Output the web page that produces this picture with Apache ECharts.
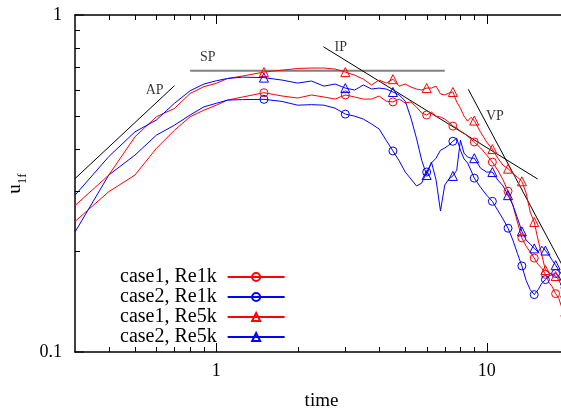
<!DOCTYPE html>
<html><head><meta charset="utf-8">
<script src="https://cdn.jsdelivr.net/npm/echarts@6/dist/echarts.min.js"></script>
<style>html,body{margin:0;padding:0;background:#fff}#c{width:561px;height:412px}</style>
</head><body><div id="c"></div>
<script>
// ---- data ----
const times = [0.3,0.4,0.5,0.6,0.7,0.8,0.9,1.0,1.1,1.25,
  1.5,1.75,2,2.25,2.5,2.75,3,3.25,3.5,3.75,4,4.25,4.5,4.75,5,5.25,5.5,5.75,6,6.25,6.5,6.75,7,7.25,7.5,7.75,8,8.25,8.5,8.75,9,
  9.5,10,10.5,11,11.5,12,12.5,13,13.5,14,14.5,15,15.5,16,16.5,17,17.5,18,18.5,19,19.5,20];
const case1Re1k = [0.244,0.299,0.335,0.402,0.455,0.499,0.522,0.540,0.559,0.571,
  0.588,0.575,0.567,0.579,0.571,0.563,0.579,0.571,0.563,0.563,0.575,0.555,0.552,0.563,0.548,0.552,0.533,0.512,0.505,0.515,0.501,0.498,0.491,0.481,0.468,0.462,0.452,0.446,0.437,0.428,0.420,
  0.403,0.384,0.366,0.346,0.324,0.300,0.273,0.243,0.218,0.206,0.198,0.190,0.182,0.177,0.170,0.161,0.156,0.149,0.144,0.135,0.128,0.124];
const case2Re1k = [0.227,0.335,0.384,0.440,0.471,0.505,0.534,0.547,0.559,0.561,
  0.562,0.554,0.540,0.542,0.540,0.529,0.508,0.501,0.491,0.475,0.459,0.425,0.395,0.369,0.342,0.326,0.311,0.317,0.342,0.364,0.376,0.397,0.403,0.411,0.422,0.431,0.397,0.374,0.364,0.346,0.328,
  0.308,0.292,0.280,0.263,0.248,0.233,0.215,0.196,0.180,0.163,0.153,0.148,0.153,0.160,0.164,0.168,0.170,0.171,0.168,0.161,0.155,0.150];
const case1Re5k = [0.272,0.335,0.435,0.499,0.528,0.585,0.613,0.627,0.648,0.659,
  0.677,0.686,0.694,0.696,0.696,0.691,0.677,0.663,0.645,0.620,0.641,0.628,0.645,0.615,0.624,0.611,0.603,0.599,0.607,0.607,0.615,0.583,0.579,0.587,0.591,0.552,0.529,0.501,0.484,0.497,0.486,
  0.449,0.420,0.400,0.376,0.358,0.350,0.339,0.330,0.321,0.296,0.260,0.243,0.215,0.194,0.175,0.172,0.170,0.168,0.163,0.157,0.150,0.144];
const case2Re5k = [0.292,0.380,0.450,0.488,0.547,0.596,0.624,0.638,0.648,0.654,
  0.652,0.641,0.628,0.637,0.615,0.624,0.607,0.599,0.620,0.603,0.607,0.603,0.591,0.579,0.555,0.494,0.431,0.371,0.335,0.366,0.324,0.262,0.313,0.326,0.333,0.346,0.425,0.389,0.379,0.376,0.376,
  0.351,0.342,0.342,0.324,0.311,0.292,0.273,0.250,0.228,0.215,0.209,0.203,0.198,0.206,0.200,0.194,0.187,0.181,0.175,0.169,0.163,0.161];
const seriesNames = ['case1, Re1k','case2, Re1k','case1, Re5k','case2, Re5k'];
const markerStep = 1.5;
const xLabels = [1, 10];
const yLabels = [0.1, 1];
const xMajorTicks = [1, 10];
const xMinorTicks = [0.4,0.5,0.6,0.7,0.8,0.9,2,3,4,5,6,7,8,9];
const yMinorTicks = [0.2,0.3,0.4,0.5,0.6,0.7,0.8,0.9];
const guideAP = [[0.3,0.327],[0.70,0.617]];
const guideSP = [[0.8,0.683],[7,0.683]];
const guideIP = [[2.49,0.805],[15.45,0.326]];
const guideVP = [[8.55,0.602],[20,0.168]];
const guideLabels = [
  {name:'AP', value:[0.591,0.599]},
  {name:'SP', value:[0.929,0.750]},
  {name:'IP', value:[2.887,0.803]},
  {name:'VP', value:[10.73,0.501]}
];

// ---- chart ----
const FONT = 'Liberation Serif';
const RED = '#ff0000', BLUE = '#0000ff';
const X_MIN = 0.3, X_MAX = 20, Y_MIN = 0.1, Y_MAX = 1;
function isMarker(t){ const q = t / markerStep; return t >= markerStep && Math.abs(q - Math.round(q)) < 1e-9; }
function build(vals){ return times.map((t,i)=> isMarker(t) ? [t, vals[i]] : {value:[t, vals[i]], symbol:'none'}); }
function dataSeries(name, vals, color, sym, size){
  return {name, type:'line', data: build(vals), symbol: sym, symbolSize: size, showSymbol:true,
    lineStyle:{color, width:1}, itemStyle:{color:'rgba(0,0,0,0)', borderColor:color, borderWidth:1},
    emphasis:{disabled:true}, animation:false, z:3};
}
function guide(data, color, width){
  return {type:'line', data, symbol:'none', lineStyle:{color, width}, silent:true, animation:false, z:2, emphasis:{disabled:true}};
}
const xBase = {type:'log', logBase:10, min:X_MIN, max:X_MAX, gridIndex:0, splitLine:{show:false}};
const yBase = {type:'log', logBase:10, min:Y_MIN, max:Y_MAX, gridIndex:0, splitLine:{show:false}};
const option = {
  backgroundColor:'#fff',
  animation:false,
  grid:{left:75, top:15, width:493, height:337, outerBoundsMode:'none'},
  xAxis:[
    Object.assign({}, xBase, {position:'bottom', axisLine:{show:true, lineStyle:{color:'#000', width:1.5}},
      axisTick:{show:false},
      axisLabel:{show:true, customValues:xLabels, margin:10, fontFamily:FONT, fontSize:18, color:'#000'},
      name:'time', nameLocation:'middle', nameGap:40, nameTextStyle:{fontFamily:FONT, fontSize:19, color:'#000'}}),
    Object.assign({}, xBase, {position:'top', axisLine:{show:true, lineStyle:{color:'#000', width:1.5}},
      axisTick:{show:false}, axisLabel:{show:false}})
  ],
  yAxis:[
    Object.assign({}, yBase, {position:'left', axisLine:{show:true, lineStyle:{color:'#000', width:1.5}},
      axisTick:{show:false},
      axisLabel:{show:true, customValues:yLabels, margin:13, fontFamily:FONT, fontSize:18, color:'#000'},
      name:'{a|u}{b|1f}', nameLocation:'middle', nameGap:42, nameRotate:90,
      nameTextStyle:{fontFamily:FONT, fontSize:19, color:'#000',
        rich:{a:{fontFamily:FONT, fontSize:19, color:'#000', lineHeight:28, verticalAlign:'middle'},
              b:{fontFamily:FONT, fontSize:13, color:'#000', lineHeight:13, verticalAlign:'bottom'}}}})
  ],
  legend:{
    data: seriesNames, orient:'vertical', left:120, top:267, padding:0, itemGap:0,
    align:'right', itemWidth:57, itemHeight:10, selectedMode:false,
    textStyle:{fontFamily:FONT, fontSize:20, color:'#000', lineHeight:19, padding:[0,6,0,0]}
  },
  series:[
    guide(guideAP, '#000', 1),
    guide(guideSP, '#808080', 2),
    guide(guideIP, '#000', 1),
    guide(guideVP, '#000', 1),
    dataSeries(seriesNames[0], case1Re1k, RED, 'circle', 8),
    dataSeries(seriesNames[1], case2Re1k, BLUE, 'circle', 8),
    dataSeries(seriesNames[2], case1Re5k, RED, 'triangle', 9),
    dataSeries(seriesNames[3], case2Re5k, BLUE, 'triangle', 9),
    {type:'scatter', data: guideLabels, symbolSize:0, silent:true, animation:false,
      label:{show:true, position:'inside', formatter:'{b}', fontFamily:FONT, fontSize:14, color:'#000'}}
  ]
};
const chart = echarts.init(document.getElementById('c'), null, {renderer:'canvas'});
chart.setOption(option);

// ---- tick marks: positions come from the chart's own log scales ----
function px(x, y){ return chart.convertToPixel({gridIndex:0}, [x, y]); }
const tickEls = [];
function seg(x1, y1, x2, y2){
  tickEls.push({type:'line', z:100, silent:true,
    shape:{x1, y1, x2, y2}, style:{stroke:'#000', lineWidth:1}});
}
function xTicks(list, len){
  list.forEach(v => {
    const b = px(v, Y_MIN), t = px(v, Y_MAX);
    const x = Math.round(b[0]) + 0.5;
    seg(x, b[1], x, b[1] - len);
    seg(x, t[1], x, t[1] + len);
  });
}
xTicks(xMinorTicks, 5);
xTicks(xMajorTicks, 9);
yMinorTicks.forEach(v => {
  const l = px(X_MIN, v);
  const y = Math.round(l[1]) + 0.5;
  seg(l[0], y, l[0] + 5, y);
});
yLabels.forEach(v => {
  const l = px(X_MIN, v);
  seg(l[0], l[1], l[0] + 9, l[1]);
});
chart.setOption({graphic: tickEls});
</script>
</body></html>
